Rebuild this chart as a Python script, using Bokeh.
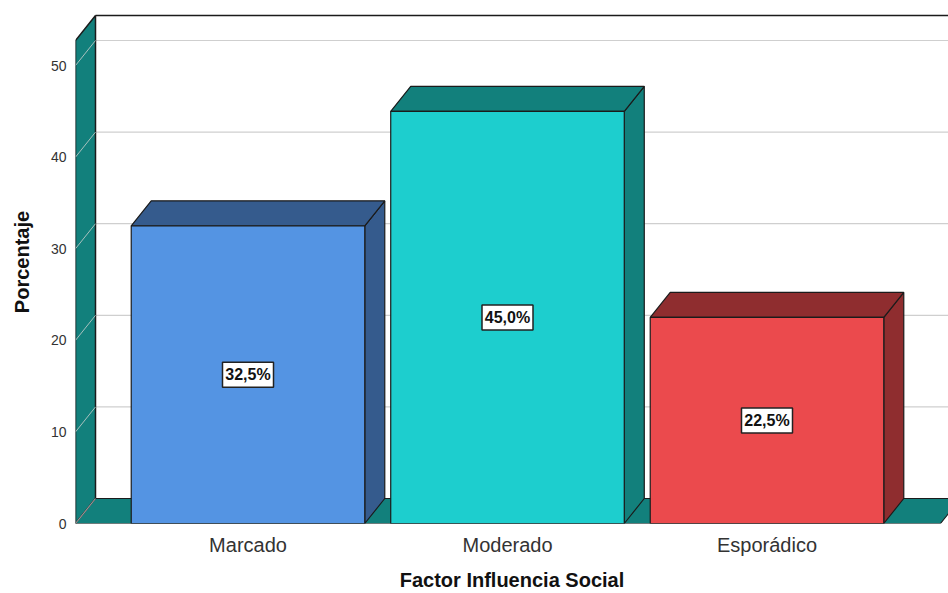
from bokeh.plotting import figure
from bokeh.models import Range1d, FixedTicker
from bokeh.core.properties import value
from bokeh.embed import file_html
from bokeh.resources import INLINE

# ---- data ----
categories = ["Marcado", "Moderado", "Esporádico"]
percent = [32.5, 45.0, 22.5]
front_colors = ["#5494E3", "#1DCECE", "#EB4A4D"]
shade_colors = ["#355B8D", "#12807C", "#8F2D2F"]
y_ticks = [0, 10, 20, 30, 40, 50]
y_wall_top = 52.73

# ---- geometry ----
W, H = 948, 593
BL, BB = 75, 70            # left / bottom borders (px)
FW, FH = W - BL, H - BB    # frame size
PX_X = 259.5               # px per category
PX_Y = 9.16                # px per percent
x0 = -172.5 / PX_X
x1 = x0 + FW / PX_X
y1 = FH / PX_Y
DX = 20 / PX_X             # depth offset
DY = 25 / PX_Y
BW = 0.9                   # bar width

TEAL = "#12807C"
EDGE = "#1b1b1b"
GRID = "#cfcfcf"

p = figure(width=W, height=H, output_backend="svg", toolbar_location=None,
           x_range=Range1d(x0, x1), y_range=Range1d(0, y1),
           min_border_left=BL, min_border_bottom=BB, min_border_top=0,
           min_border_right=0, outline_line_color=None)
p.xgrid.visible = False
p.ygrid.visible = False

# gridlines (back wall + left wall diagonals)
gx, gy = [], []
for t in y_ticks[1:]:
    gx.append([x0, x0 + DX, x1 + 1])
    gy.append([t, t + DY, t + DY])
p.multi_line(gx, gy, line_color=GRID, line_width=1.2)

# back wall top edge
p.line([x0 + DX, x1 + 1], [y_wall_top + DY, y_wall_top + DY], line_color=EDGE, line_width=1.5)

# left wall
p.patch([x0, x0, x0 + DX, x0 + DX], [0, y_wall_top, y_wall_top + DY, DY],
        fill_color=TEAL, line_color=EDGE, line_width=1.5)
# floor
xr = x0 + 865 / PX_X
p.patch([x0, x0 + DX, xr + DX, xr], [0, DY, DY, 0],
        fill_color=TEAL, line_color=EDGE, line_width=1.2)
p.line([x0, x0 + DX], [0, DY], line_color="#9a9a9a", line_width=1.2)
# wall diagonals for gridlines on top of teal
p.multi_line([[x0, x0 + DX] for t in y_ticks[1:]], [[t, t + DY] for t in y_ticks[1:]],
             line_color="#a8c0be", line_width=1)

# bars
xs = list(range(len(categories)))
for i, v in enumerate(percent):
    l, r = xs[i] - BW / 2, xs[i] + BW / 2
    # side
    p.patch([r, r + DX, r + DX, r], [0, DY, v + DY, v],
            fill_color=shade_colors[i], line_color=EDGE, line_width=1.2)
    # top
    p.patch([l, l + DX, r + DX, r], [v, v + DY, v + DY, v],
            fill_color=shade_colors[i], line_color=EDGE, line_width=1.2)
    # front
    p.quad(left=l, right=r, bottom=0, top=v,
           fill_color=front_colors[i], line_color=EDGE, line_width=1.2)

# value labels
labels = [f"{v:.1f}".replace(".", ",") + "%" for v in percent]
p.rect(x=xs, y=[v / 2 for v in percent], width=51, height=25,
       width_units="screen", height_units="screen",
       fill_color="white", line_color="#222222", line_width=1.5)
p.text(x=xs, y=[v / 2 for v in percent], text=labels,
       text_font=value("Liberation Sans"),
       text_font_style="bold", text_font_size="16px", text_color="#111111",
       text_align="center", text_baseline="middle")

# axes
p.yaxis.ticker = FixedTicker(ticks=y_ticks)
p.yaxis.axis_line_color = None
p.yaxis.major_tick_line_color = None
p.yaxis.minor_tick_line_color = None
p.yaxis.major_label_standoff = 3
p.yaxis.major_label_text_font = "Liberation Sans"
p.yaxis.major_label_text_font_size = "14px"
p.yaxis.major_label_text_color = "#333333"
p.yaxis.axis_label = "Porcentaje"
p.yaxis.axis_label_text_font = "Liberation Sans"
p.yaxis.axis_label_text_font_style = "bold"
p.yaxis.axis_label_text_font_size = "20px"
p.yaxis.axis_label_text_color = "#111111"
p.yaxis.axis_label_standoff = 15

p.xaxis.ticker = FixedTicker(ticks=xs)
p.xaxis.major_label_overrides = {i: c for i, c in enumerate(categories)}
p.xaxis.axis_line_color = None
p.xaxis.major_tick_line_color = None
p.xaxis.minor_tick_line_color = None
p.xaxis.major_label_standoff = 4
p.xaxis.major_label_text_font = "Liberation Sans"
p.xaxis.major_label_text_font_size = "20px"
p.xaxis.major_label_text_color = "#333333"
p.xaxis.axis_label = "Factor Influencia Social"
p.xaxis.axis_label_text_font = "Liberation Sans"
p.xaxis.axis_label_text_font_style = "bold"
p.xaxis.axis_label_text_font_size = "20px"
p.xaxis.axis_label_text_color = "#111111"
p.xaxis.axis_label_standoff = 10

open("out.html", "w").write(file_html(p, INLINE))
